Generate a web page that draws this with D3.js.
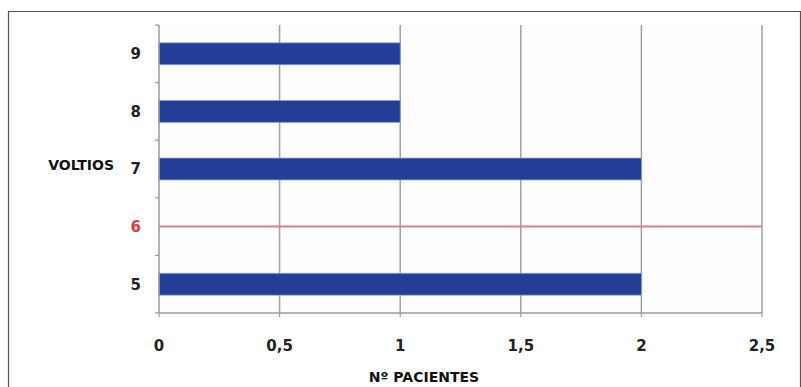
<!DOCTYPE html>
<html>
<head>
<meta charset="utf-8">
<script src="https://cdn.jsdelivr.net/npm/d3@7"></script>
<style>
  html, body { margin: 0; padding: 0; background: #fff; }
  svg { display: block; }
  text { font-family: "DejaVu Sans", Verdana, sans-serif; font-weight: bold; }
</style>
</head>
<body>
<svg id="chart" width="801" height="387"></svg>
<script>
// Patients per voltage level
const voltios = ["9", "8", "7", "6", "5"];
const pacientes = [1, 1, 2, 0, 2];
// Reference level drawn as a horizontal line across the plot
const referencia = "6";
const xTicks = [0, 0.5, 1, 1.5, 2, 2.5];
const xTickLabels = ["0", "0,5", "1", "1,5", "2", "2,5"];

const svg = d3.select("#chart");
const W = 801, H = 387;
const m = { left: 159, right: 39, top: 25, bottom: 74 };

// Outer frame
svg.append("path")
  .attr("d", `M8.5,${H} V11.5 H${W - 0.5} V${H}`)
  .attr("fill", "none").attr("stroke", "#555").attr("stroke-width", 1.2);

const x = d3.scaleLinear().domain([0, 2.5]).range([m.left, W - m.right]);
const y = d3.scaleBand().domain(voltios).range([m.top, H - m.bottom]).paddingInner(0.62).paddingOuter(0.31);

// Plot background
svg.append("rect")
  .attr("x", x(0)).attr("y", m.top)
  .attr("width", x(2.5) - x(0)).attr("height", H - m.bottom - m.top)
  .attr("fill", "#fefeff");

// Vertical gridlines
svg.append("g").selectAll("line").data(xTicks.slice(1)).join("line")
  .attr("x1", d => x(d)).attr("x2", d => x(d))
  .attr("y1", m.top).attr("y2", H - m.bottom)
  .attr("stroke", "#a0a0a0").attr("stroke-width", 1.5);

// Bars
svg.append("g").selectAll("rect").data(voltios.map((v, i) => ({ v, n: pacientes[i] })).filter(d => d.n > 0))
  .join("rect")
  .attr("x", x(0)).attr("y", d => y(d.v))
  .attr("width", d => x(d.n) - x(0)).attr("height", y.bandwidth())
  .attr("fill", "#243e98").attr("stroke", "#7fa0e0").attr("stroke-width", 0.8);

// Reference line
svg.append("line")
  .attr("x1", x(0)).attr("x2", x(2.5))
  .attr("y1", y(referencia) + y.bandwidth() / 2).attr("y2", y(referencia) + y.bandwidth() / 2)
  .attr("stroke", "#e8788a").attr("stroke-width", 2);

// Y axis
const yAxisG = svg.append("g").attr("transform", `translate(${x(0)},0)`);
yAxisG.append("line").attr("x1", 0).attr("x2", 0).attr("y1", m.top).attr("y2", H - m.bottom)
  .attr("stroke", "#999").attr("stroke-width", 1.5);
const yBounds = d3.range(voltios.length + 1).map(i => m.top + i * (H - m.bottom - m.top) / voltios.length);
yAxisG.selectAll("line.tick").data(yBounds).join("line").attr("class", "tick")
  .attr("x1", -4).attr("x2", 0).attr("y1", d => d).attr("y2", d => d)
  .attr("stroke", "#999").attr("stroke-width", 1.2);
yAxisG.selectAll("text").data(voltios).join("text")
  .attr("x", -18).attr("y", d => y(d) + y.bandwidth() / 2)
  .attr("dy", "0.36em").attr("text-anchor", "end")
  .attr("font-size", 15)
  .attr("fill", d => d === referencia ? "#e03a3a" : "#222")
  .text(d => d);

// X axis
const xAxisG = svg.append("g").attr("transform", `translate(0,${H - m.bottom})`);
xAxisG.append("line").attr("x1", x(0)).attr("x2", x(2.5)).attr("y1", 0).attr("y2", 0)
  .attr("stroke", "#999").attr("stroke-width", 1.5);
xAxisG.selectAll("line.tick").data(xTicks).join("line").attr("class", "tick")
  .attr("x1", d => x(d)).attr("x2", d => x(d)).attr("y1", 0).attr("y2", 4)
  .attr("stroke", "#999").attr("stroke-width", 1.2);
xAxisG.selectAll("text").data(xTicks).join("text")
  .attr("x", d => x(d)).attr("y", 38)
  .attr("text-anchor", "middle").attr("font-size", 15).attr("fill", "#222")
  .text((d, i) => xTickLabels[i]);

// Axis titles
svg.append("text").attr("x", 114).attr("y", 165).attr("dy", "0.36em")
  .attr("text-anchor", "end").attr("font-size", 14).attr("fill", "#111")
  .text("VOLTIOS");
svg.append("text").attr("x", 424).attr("y", 377).attr("dy", "0.36em")
  .attr("text-anchor", "middle").attr("font-size", 14).attr("fill", "#111")
  .text("Nº PACIENTES");
</script>
</body>
</html>
